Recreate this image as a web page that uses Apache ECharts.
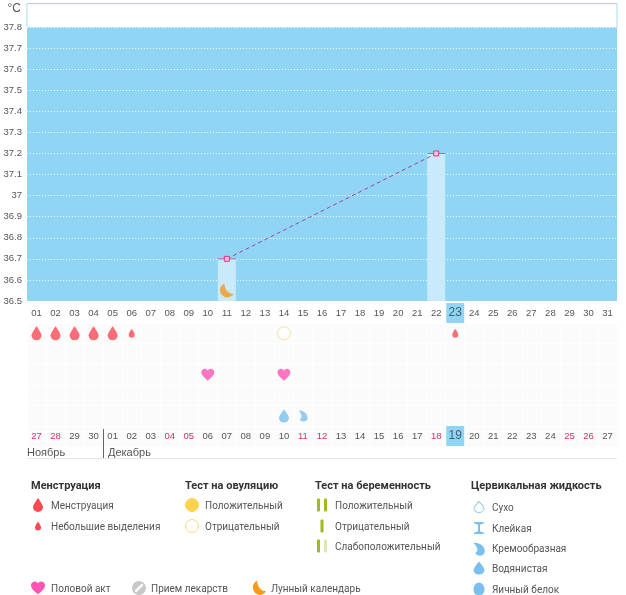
<!DOCTYPE html>
<html>
<head>
<meta charset="utf-8">
<title>График температуры</title>
<script src="https://cdn.jsdelivr.net/npm/echarts@6/dist/echarts.min.js"></script>
<style>
  html, body { margin: 0; padding: 0; background: #fff; }
  #chart { width: 626px; height: 595px; }
</style>
</head>
<body>
<div id="chart"></div>
<script>
// данные графика
var cycleDays = ['01','02','03','04','05','06','07','08','09','10','11','12','13','14','15','16','17','18','19','20','21','22','23','24','25','26','27','28','29','30','31'];
var calendarDays = ['27','28','29','30','01','02','03','04','05','06','07','08','09','10','11','12','13','14','15','16','17','18','19','20','21','22','23','24','25','26','27'];
var weekendIdx = [0, 1, 7, 8, 14, 15, 21, 28, 29];
var todayIdx = 22;
var temperatures = [null,null,null,null,null,null,null,null,null,null,36.7,null,null,null,null,null,null,null,null,null,null,37.2,null,null,null,null,null,null,null,null,null];
var rows = ['cycle', 'pregnancy', 'sex', 'medicine', 'fluid', 'dates'];
var periodDays = [1, 2, 3, 4, 5];
var spottingDays = [6, 23];
var ovulationNegDays = [14];
var sexDays = [10, 14];
var wateryDays = [14];
var creamyDays = [15];
var moonDays = [11];
var moonLevel = 36.55;
var months = ['Ноябрь', 'Декабрь'];

// значки, все в квадрате 100x100
var ICON = {
  drop: 'M50 0C50 0 100 48 100 66A50 34 0 0 1 0 66C0 48 50 0 50 0Z',
  heart: 'M50 98C20 72 0 52 0 28C0 12 14 0 28 0C38 0 46 6 50 16C54 6 62 0 72 0C86 0 100 12 100 28C100 52 80 72 50 98Z',
  moon: 'M36 0A50 50 0 1 0 100 70C72 74 40 50 36 0Z',
  cream: 'M0 8C45 0 100 35 100 65A45 35 0 0 1 15 92C45 78 45 50 0 8Z',
  glue: 'M0 0L100 0L100 10L60 22L60 78L100 90L100 100L0 100L0 90L40 78L40 22L0 10Z',
  egg: 'M50 0C82 0 100 30 100 56C100 84 78 100 50 100C22 100 0 84 0 56C0 30 18 0 50 0Z',
  pill: 'M50 0A50 50 0 1 1 49.9 0ZM70 18L18 70L30 82L82 30Z'
};
Object.keys(ICON).forEach(function (k) {
  echarts.graphic.registerShape('icon_' + k, echarts.graphic.extendPath(ICON[k], {}));
});

var RED = '#fb4a54', YELLOW = '#fdd44e', PINK = '#ff55b4', ORANGE = '#f39a1d', BLUE = '#7ac0ee', GREEN = '#9dba1f', TEXT = '#555';
var LABEL_FONT = '"Liberation Sans"';
var LEGEND_FONT = 'Roboto';

function points(days, row) {
  return days.map(function (d) { return [d - 1, row]; });
}

function richDay() {
  return {
    d: { color: TEXT, fontSize: 9.5, fontFamily: LABEL_FONT, width: 18, height: 20, lineHeight: 20, align: 'center' },
    we: { color: '#d8305f', fontSize: 9.5, fontFamily: LABEL_FONT, width: 18, height: 20, lineHeight: 20, align: 'center' },
    today: { color: '#44606e', fontSize: 12, fontFamily: LABEL_FONT, width: 18, height: 20, lineHeight: 20, align: 'center', backgroundColor: '#90d6f4' }
  };
}

function markSeries(name, days, row, symbol, size, color, extra) {
  var s = {
    name: name, type: 'scatter', xAxisIndex: 1, yAxisIndex: 1,
    data: points(days, row), symbol: symbol, symbolSize: size,
    itemStyle: { color: color }, silent: true
  };
  return Object.assign(s, extra || {});
}

// легенда
var legendTitles = [
  { text: 'Менструация', x: 31, y: 486 },
  { text: 'Тест на овуляцию', x: 185, y: 486 },
  { text: 'Тест на беременность', x: 315, y: 486 },
  { text: 'Цервикальная жидкость', x: 471, y: 486 }
];
var legendItems = [
  { text: 'Менструация', x: 51, y: 505, icon: 'drop', ix: 38, w: 10, h: 14, color: RED },
  { text: 'Небольшие выделения', x: 51, y: 526, icon: 'drop', ix: 38, w: 6, h: 9, color: RED },
  { text: 'Положительный', x: 205, y: 505, circle: true, ix: 192, color: YELLOW, stroke: YELLOW },
  { text: 'Отрицательный', x: 205, y: 526, circle: true, ix: 192, color: '#fff', stroke: '#f5dc80' },
  { text: 'Положительный', x: 335, y: 505, bars: [GREEN, GREEN], ix: 322 },
  { text: 'Отрицательный', x: 335, y: 526, bars: [GREEN], ix: 322 },
  { text: 'Слабоположительный', x: 335, y: 546, bars: [GREEN, '#dde6b0'], ix: 322 },
  { text: 'Сухо', x: 492, y: 507, icon: 'drop', ix: 479, w: 10, h: 11, color: '#fff', stroke: '#9ccbe8' },
  { text: 'Клейкая', x: 492, y: 528, icon: 'glue', ix: 479, w: 10, h: 12, color: BLUE },
  { text: 'Кремообразная', x: 492, y: 548, icon: 'cream', ix: 479, w: 11, h: 12, color: BLUE },
  { text: 'Водянистая', x: 492, y: 568, icon: 'drop', ix: 479, w: 11, h: 13, color: BLUE },
  { text: 'Яичный белок', x: 492, y: 589, icon: 'egg', ix: 479, w: 11, h: 13, color: BLUE },
  { text: 'Половой акт', x: 51, y: 588, icon: 'heart', ix: 38, w: 14, h: 13, color: PINK },
  { text: 'Прием лекарств', x: 151, y: 588, icon: 'pill', ix: 139, w: 14, h: 14, color: '#c8c8c8' },
  { text: 'Лунный календарь', x: 271, y: 588, icon: 'moon', ix: 259, w: 14, h: 15, color: ORANGE }
];

function buildGraphic() {
  var g = [
    { type: 'rect', shape: { x: 27, y: 3.5, width: 590, height: 24 }, style: { fill: '#fff', stroke: '#a8dcea', lineWidth: 1 } },
    { type: 'line', z: 20, shape: { x1: 103.5, y1: 429, x2: 103.5, y2: 458 }, style: { stroke: '#666', lineWidth: 1 } },
    { type: 'line', shape: { x1: 27, y1: 458.5, x2: 617, y2: 458.5 }, style: { stroke: '#e6e6e6', lineWidth: 1 } },
    { type: 'text', x: 27, y: 453, style: { text: months[0], fill: TEXT, font: '11px ' + LABEL_FONT, textVerticalAlign: 'middle' } },
    { type: 'text', x: 108, y: 453, style: { text: months[1], fill: TEXT, font: '11px ' + LABEL_FONT, textVerticalAlign: 'middle' } }
  ];
  legendTitles.forEach(function (t) {
    g.push({ type: 'text', x: t.x, y: t.y, style: { text: t.text, fill: '#333', font: 'bold 11px ' + LEGEND_FONT, textVerticalAlign: 'middle' } });
  });
  legendItems.forEach(function (it) {
    g.push({ type: 'text', x: it.x, y: it.y + 1, style: { text: it.text, fill: TEXT, font: '10px ' + LEGEND_FONT, textVerticalAlign: 'middle' } });
    if (it.circle) {
      g.push({ type: 'circle', shape: { cx: it.ix, cy: it.y, r: 6.5 }, style: { fill: it.color, stroke: it.stroke, lineWidth: 1 } });
    } else if (it.bars) {
      it.bars.forEach(function (c, i) {
        var bx = it.bars.length === 1 ? it.ix - 1.5 : it.ix - 5 + i * 7;
        g.push({ type: 'rect', shape: { x: bx, y: it.y - 6.5, width: 3, height: 13, r: 1 }, style: { fill: c } });
      });
    } else {
      g.push({
        type: 'icon_' + it.icon,
        x: it.ix - it.w / 2, y: it.y - it.h / 2, scaleX: it.w / 100, scaleY: it.h / 100,
        style: { fill: it.color, stroke: it.stroke || null, lineWidth: 1, strokeNoScale: true }
      });
    }
  });
  return g;
}

var myChart = echarts.init(document.getElementById('chart'), null, { renderer: 'canvas' });
myChart.setOption({
  animation: false,
  backgroundColor: '#fff',
  graphic: buildGraphic(),
  grid: [
    { left: 27, top: 27, width: 590, height: 274, show: true, backgroundColor: '#90d6f4', borderWidth: 0 },
    { left: 27, top: 323, width: 590, height: 124, show: true, backgroundColor: '#fbfbfc', borderWidth: 0 }
  ],
  xAxis: [
    {
      type: 'category', gridIndex: 0, data: cycleDays,
      axisLine: { show: false }, axisTick: { show: false },
      axisLabel: {
        interval: 0, margin: 2, rich: richDay(),
        formatter: function (v, i) { return (i === todayIdx ? '{today|' : '{d|') + v + '}'; }
      }
    },
    {
      type: 'category', gridIndex: 1, data: calendarDays,
      axisLine: { show: false }, axisTick: { show: false },
      splitLine: { show: true, interval: 0, lineStyle: { color: '#fff', width: 1 } },
      axisLabel: {
        interval: 0, inside: true, margin: 1, rich: richDay(),
        formatter: function (v, i) {
          var style = i === todayIdx ? 'today' : (weekendIdx.indexOf(i) >= 0 ? 'we' : 'd');
          return '{' + style + '|' + v + '}';
        }
      }
    }
  ],
  yAxis: [
    {
      type: 'value', gridIndex: 0, min: 36.5, max: 37.8, interval: 0.1,
      name: '°C', nameLocation: 'end', nameGap: 12,
      nameTextStyle: { color: TEXT, fontSize: 12, fontFamily: LABEL_FONT, align: 'right', padding: [0, 6, 0, 0] },
      axisLine: { show: false }, axisTick: { show: false },
      splitLine: { show: true, lineStyle: { color: '#fff', type: [1, 2], width: 1, opacity: 0.9 } },
      axisLabel: {
        color: TEXT, fontSize: 9.5, fontFamily: LABEL_FONT, margin: 5, padding: [4, 0, 0, 0],
        formatter: function (v) { return String(Math.round(v * 10) / 10); }
      }
    },
    {
      type: 'category', gridIndex: 1, data: rows, inverse: true,
      axisLine: { show: false }, axisTick: { show: false }, axisLabel: { show: false },
      splitLine: { show: true, interval: 0, lineStyle: { color: '#fff', width: 1 } }
    }
  ],
  series: [
    {
      name: 'bars', type: 'bar', xAxisIndex: 0, yAxisIndex: 0, data: temperatures, barWidth: 18,
      itemStyle: { color: '#c8eafa' }, silent: true
    },
    {
      name: 'caps', type: 'scatter', xAxisIndex: 0, yAxisIndex: 0,
      data: temperatures.map(function (t, i) { return t === null ? null : [i, t]; }).filter(Boolean),
      symbol: 'rect', symbolSize: [18, 1], itemStyle: { color: '#d63a86' }, silent: true, z: 3
    },
    {
      name: 'temperature', type: 'line', xAxisIndex: 0, yAxisIndex: 0, data: temperatures, connectNulls: true,
      symbol: 'rect', symbolSize: 5, showAllSymbol: true,
      lineStyle: { color: '#a8409a', width: 1, type: [4, 3] },
      itemStyle: { color: '#f9c2da', borderColor: '#d63a86', borderWidth: 1 }, silent: true, z: 4
    },
    {
      name: 'moon', type: 'scatter', xAxisIndex: 0, yAxisIndex: 0,
      data: moonDays.map(function (d) { return [d - 1, moonLevel]; }),
      symbol: 'path://' + ICON.moon, symbolSize: 14, itemStyle: { color: ORANGE }, silent: true, z: 5
    },
    markSeries('period', periodDays, 0, 'path://' + ICON.drop, [10, 14], RED),
    markSeries('spotting', spottingDays, 0, 'path://' + ICON.drop, [6, 9], RED),
    markSeries('ovulationNeg', ovulationNegDays, 0, 'circle', 13, '#fff', { itemStyle: { color: '#fff', borderColor: '#f5dc80', borderWidth: 1 } }),
    markSeries('sex', sexDays, 2, 'path://' + ICON.heart, [13, 12], PINK),
    markSeries('watery', wateryDays, 4, 'path://' + ICON.drop, [10, 13], BLUE),
    markSeries('creamy', creamyDays, 4, 'path://' + ICON.cream, [9, 11], BLUE)
  ]
});
</script>
</body>
</html>
